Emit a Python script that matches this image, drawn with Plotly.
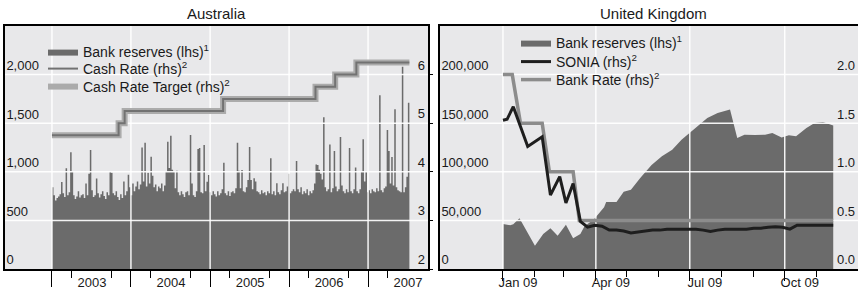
import pandas as pd
import plotly.graph_objects as go

# ---------------- Australia ----------------
aus_res_start = "2003-01-01"
aus_reserves = [
    840, 760, 705, 730, 745, 770, 895, 780, 740, 1036, 760, 790, 1200, 1000, 760, 720, 745, 800, 735, 760,
    770, 730, 880, 760, 980, 1225, 810, 740, 760, 930, 780, 735, 770, 800, 750, 720, 790, 760, 1000, 990,
    780, 760, 800, 740, 710, 770, 730, 900, 760, 800, 970, 840, 760, 880, 800, 850, 900, 820, 870, 1250,
    900, 1300, 850, 990, 880, 1156, 960, 840, 870, 800, 850, 830, 880, 800, 860, 1000, 1310, 1040, 1372, 1020,
    1000, 830, 1012, 790, 760, 800, 770, 740, 790, 800, 760, 1379, 880, 760, 740, 800, 1235, 1245, 790, 780,
    1276, 800, 898, 967, 790, 760, 800, 770, 745, 800, 760, 780, 820, 1094, 780, 760, 800, 750, 790, 800,
    780, 830, 1300, 1012, 830, 1019, 800, 790, 840, 915, 1256, 915, 820, 933, 900, 800, 790, 770, 810, 780,
    790, 760, 800, 780, 1139, 770, 800, 760, 882, 790, 770, 810, 882, 790, 800, 850, 980, 780, 800, 820,
    800, 1111, 820, 790, 840, 770, 800, 780, 820, 760, 800, 780, 810, 880, 1076, 1070, 1020, 980, 920, 1560,
    840, 800, 820, 1282, 790, 830, 1214, 850, 800, 820, 1358, 860, 800, 780, 820, 790, 1244, 800, 780, 820,
    1043, 800, 780, 820, 1000, 1334, 900, 1000, 790, 810, 780, 820, 800, 790, 830, 800, 1787, 810, 790, 830,
    850, 1430, 1214, 880, 1152, 860, 1643, 840, 810, 800, 790, 2082, 790, 840, 950, 1711,
]
aus_rate_dates = ["2003-01-01", "2003-11-05", "2003-12-03", "2005-03-02",
                  "2006-05-03", "2006-08-02", "2006-11-08", "2007-07-11"]
aus_cash_target = [4.75, 5.00, 5.25, 5.50, 5.75, 6.00, 6.25, 6.25]
aus_cash_rate = [4.75, 5.00, 5.25, 5.50, 5.75, 6.00, 6.25, 6.25]

aus_year_starts = ["2003-01-01", "2004-01-01", "2005-01-01", "2006-01-01", "2007-01-01"]
aus_year_labels = ["2003", "2004", "2005", "2006", "2007"]
aus_minor_ticks = ["2003-04-01", "2003-10-01", "2004-04-01", "2004-10-01", "2005-04-01",
                   "2005-10-01", "2006-04-01", "2006-10-01", "2007-04-01"]
aus_lhs_ticks = [0, 500, 1000, 1500, 2000]
aus_lhs_labels = ["0", "500", "1,000", "1,500", "2,000"]
aus_rhs_ticks = [2, 3, 4, 5, 6]
aus_rhs_labels = ["2", "3", "4", "5", "6"]
aus_xrange = ["2002-05-29", "2007-10-05"]
aus_yrange = [0, 2500]
aus_y2range = [2, 7]

# ---------------- United Kingdom ----------------
uk_res_dates = ["2009-01-01", "2009-01-08", "2009-01-11", "2009-01-17", "2009-02-01", "2009-02-09",
                "2009-02-16", "2009-02-23", "2009-03-03", "2009-03-10", "2009-03-17", "2009-03-21",
                "2009-03-30", "2009-04-09", "2009-04-11", "2009-04-21", "2009-04-28", "2009-05-05",
                "2009-05-14", "2009-05-25", "2009-06-04", "2009-06-14", "2009-06-23", "2009-07-01",
                "2009-07-11", "2009-07-18", "2009-07-28", "2009-08-09", "2009-08-16", "2009-08-23",
                "2009-09-02", "2009-09-12", "2009-09-19", "2009-09-28", "2009-10-05", "2009-10-12",
                "2009-10-22", "2009-10-30", "2009-11-07", "2009-11-17"]
uk_reserves = [46400, 45000, 46000, 52300, 24000, 36000,
               42000, 34300, 45400, 31600, 36000, 44000,
               51000, 63600, 69000, 69000, 79500, 81500,
               93500, 107000, 116000, 122700, 133000, 140000,
               148500, 155400, 160500, 164000, 134700, 138200,
               137900, 138200, 139900, 135400, 137500, 136600,
               145000, 150200, 151200, 147700]
uk_sonia_dates = ["2009-01-01", "2009-01-05", "2009-01-11", "2009-01-25", "2009-02-08", "2009-02-16",
                  "2009-02-25", "2009-03-03", "2009-03-10", "2009-03-17", "2009-03-24", "2009-03-31",
                  "2009-04-07", "2009-04-14", "2009-04-21", "2009-04-28", "2009-05-05", "2009-05-12",
                  "2009-05-19", "2009-05-26", "2009-06-02", "2009-06-09", "2009-06-16", "2009-06-23",
                  "2009-06-30", "2009-07-07", "2009-07-14", "2009-07-21", "2009-07-28", "2009-08-04",
                  "2009-08-11", "2009-08-18", "2009-08-25", "2009-09-01", "2009-09-08", "2009-09-15",
                  "2009-09-22", "2009-09-29", "2009-10-06", "2009-10-13", "2009-10-20", "2009-10-27",
                  "2009-11-03", "2009-11-10", "2009-11-17"]
uk_sonia = [1.53, 1.54, 1.67, 1.26, 1.36, 0.76,
            0.95, 0.68, 0.88, 0.49, 0.43, 0.45,
            0.44, 0.40, 0.40, 0.39, 0.37, 0.38,
            0.39, 0.40, 0.40, 0.41, 0.41, 0.41,
            0.41, 0.41, 0.40, 0.385, 0.40, 0.41,
            0.41, 0.41, 0.41, 0.42, 0.42, 0.43,
            0.435, 0.43, 0.41, 0.45, 0.45, 0.45,
            0.45, 0.45, 0.45]
uk_bank_rate_dates = ["2009-01-01", "2009-01-10", "2009-01-18", "2009-02-08",
                      "2009-02-15", "2009-03-10", "2009-03-16", "2009-11-17"]
uk_bank_rate = [2.0, 2.0, 1.5, 1.5, 1.0, 1.0, 0.5, 0.5]

uk_major_ticks = ["2009-01-01", "2009-04-01", "2009-07-01", "2009-10-01"]
uk_major_labels = ["Jan 09", "Apr 09", "Jul 09", "Oct 09"]
uk_minor_ticks = ["2009-02-01", "2009-03-01", "2009-05-01", "2009-06-01",
                  "2009-08-01", "2009-09-01", "2009-11-01"]
uk_lhs_ticks = [0, 50000, 100000, 150000, 200000]
uk_lhs_labels = ["0", "50,000", "100,000", "150,000", "200,000"]
uk_rhs_ticks = [0, 0.5, 1.0, 1.5, 2.0]
uk_rhs_labels = ["0.0", "0.5", "1.0", "1.5", "2.0"]
uk_xrange = ["2008-11-01", "2009-12-11"]
uk_yrange = [0, 250000]
uk_y2range = [0, 2.5]

# ---------------- styling ----------------
W, H = 858, 292
TOP, BOTTOM = 26, 269
PH = BOTTOM - TOP
FONT = "Liberation Sans, Arial, sans-serif"
BG = "#e8e8ea"
DARK = "#6b6b6b"
GRID = "rgba(255,255,255,0.92)"

aus_dates = pd.date_range(aus_res_start, periods=len(aus_reserves), freq="7D")
aus_fill_x = list(aus_dates) + [aus_dates[-1] + pd.Timedelta(days=7)]
aus_fill_y = aus_reserves + [aus_reserves[-1]]


def grid_trace(xticks, yticks, xrange_, yrange_, xa, ya):
    gx, gy = [], []
    for d in xticks:
        gx += [d, d, None]
        gy += [yrange_[0], yrange_[1], None]
    for v in yticks[1:]:
        gx += [xrange_[0], xrange_[1], None]
        gy += [v, v, None]
    return go.Scatter(x=gx, y=gy, mode="lines", line=dict(color=GRID, width=1.5),
                      xaxis=xa, yaxis=ya, showlegend=False, hoverinfo="skip")


fig = go.Figure()

# Australia
fig.add_trace(go.Scatter(x=aus_fill_x, y=aus_fill_y, mode="lines", line=dict(width=0, shape="hv"),
                         fill="tozeroy", fillcolor=DARK, name="Bank reserves (lhs)<sup>1</sup>",
                         xaxis="x", yaxis="y", legend="legend"))
fig.add_trace(grid_trace(aus_year_starts, aus_lhs_ticks, aus_xrange, aus_yrange, "x", "y"))
fig.add_trace(go.Scatter(x=aus_rate_dates, y=aus_cash_target, mode="lines",
                         line=dict(color="#ababab", width=6, shape="hv"),
                         name="Cash Rate Target (rhs)<sup>2</sup>", xaxis="x", yaxis="y2",
                         legend="legend3"))
fig.add_trace(go.Scatter(x=aus_rate_dates, y=aus_cash_rate, mode="lines",
                         line=dict(color="#727272", width=2, shape="hv"),
                         name="Cash Rate (rhs)<sup>2</sup>", xaxis="x", yaxis="y2",
                         legend="legend2"))

# United Kingdom
fig.add_trace(go.Scatter(x=uk_res_dates, y=uk_reserves, mode="lines", line=dict(width=0),
                         fill="tozeroy", fillcolor=DARK, name="Bank reserves (lhs)<sup>1</sup>",
                         xaxis="x2", yaxis="y3", legend="legend4"))
fig.add_trace(grid_trace(uk_major_ticks, uk_lhs_ticks, uk_xrange, uk_yrange, "x2", "y3"))
fig.add_trace(go.Scatter(x=uk_bank_rate_dates, y=uk_bank_rate, mode="lines",
                         line=dict(color="#8c8c8c", width=3.5),
                         name="Bank Rate (rhs)<sup>2</sup>", xaxis="x2", yaxis="y4",
                         legend="legend6"))
fig.add_trace(go.Scatter(x=uk_sonia_dates, y=uk_sonia, mode="lines",
                         line=dict(color="#1e1e1e", width=3),
                         name="SONIA (rhs)<sup>2</sup>", xaxis="x2", yaxis="y4",
                         legend="legend5"))

tickfont = dict(family=FONT, size=13, color="#1a1a1a")
frame = dict(showline=True, linewidth=2, linecolor="black", zeroline=False,
             showgrid=False, automargin=False, tickfont=tickfont)


def legend_at(x_px, y_px):
    return dict(x=x_px / W, y=(BOTTOM - y_px) / PH, xanchor="left", yanchor="middle",
                bgcolor="rgba(0,0,0,0)", font=dict(family=FONT, size=14, color="#1a1a1a"))


fig.update_layout(
    width=W, height=H,
    margin=dict(l=0, r=0, t=TOP, b=H - BOTTOM),
    paper_bgcolor="white", plot_bgcolor=BG,
    font=dict(family=FONT, size=13, color="#1a1a1a"),
    xaxis=dict(domain=[5 / W, 428 / W], range=aus_xrange, type="date", anchor="y",
               tickmode="array", tickvals=aus_year_starts, ticktext=aus_year_labels,
               ticks="outside", ticklen=16, tickwidth=1.3, tickcolor="black",
               ticklabelshift=40, ticklabelstandoff=-16, mirror=True,
               minor=dict(tickmode="array", tickvals=aus_minor_ticks, ticks="outside",
                          ticklen=7, tickwidth=1.3, tickcolor="black", showgrid=False),
               **frame),
    yaxis=dict(range=aus_yrange, anchor="x", tickmode="array", tickvals=aus_lhs_ticks,
               ticktext=aus_lhs_labels, ticks="", ticklabelposition="inside top",
               mirror=True, **frame),
    yaxis2=dict(range=aus_y2range, anchor="x", overlaying="y", side="right",
                tickmode="array", tickvals=aus_rhs_ticks, ticktext=aus_rhs_labels,
                ticks="outside", ticklen=4, tickcolor="black", ticklabelposition="inside top",
                showline=False, zeroline=False, showgrid=False, automargin=False,
                tickfont=tickfont),
    xaxis2=dict(domain=[440 / W, 1.0], range=uk_xrange, type="date", anchor="y3",
                tickmode="array", tickvals=uk_major_ticks, ticktext=uk_major_labels,
                ticks="outside", ticklen=10, tickwidth=1.3, tickcolor="black",
                ticklabelshift=15, ticklabelstandoff=-10, mirror=True,
                minor=dict(tickmode="array", tickvals=uk_minor_ticks, ticks="outside",
                           ticklen=6, tickwidth=1.3, tickcolor="black", showgrid=False),
                **frame),
    yaxis3=dict(range=uk_yrange, anchor="x2", tickmode="array", tickvals=uk_lhs_ticks,
                ticktext=uk_lhs_labels, ticks="", ticklabelposition="inside top",
                mirror=False, **frame),
    yaxis4=dict(range=uk_y2range, anchor="x2", overlaying="y3", side="right",
                tickmode="array", tickvals=uk_rhs_ticks, ticktext=uk_rhs_labels,
                ticks="", ticklabelposition="inside top",
                showline=False, zeroline=False, showgrid=False, automargin=False,
                tickfont=tickfont),
    legend=legend_at(43, 52),
    legend2=legend_at(43, 69),
    legend3=legend_at(43, 87),
    legend4=legend_at(516, 43),
    legend5=legend_at(516, 62),
    legend6=legend_at(516, 80),
    annotations=[
        dict(text="Australia", x=(5 + 428) / 2 / W, y=1, xref="paper", yref="paper",
             xanchor="center", yanchor="bottom", yshift=2, showarrow=False,
             font=dict(family=FONT, size=15, color="#1a1a1a")),
        dict(text="United Kingdom", x=653 / W, y=1, xref="paper", yref="paper",
             xanchor="center", yanchor="bottom", yshift=2, showarrow=False,
             font=dict(family=FONT, size=15, color="#1a1a1a")),
    ],
)

fig.write_html("out.html", config={"displayModeBar": False},
               post_script="document.body.style.margin='0';document.body.style.overflow='hidden';")
